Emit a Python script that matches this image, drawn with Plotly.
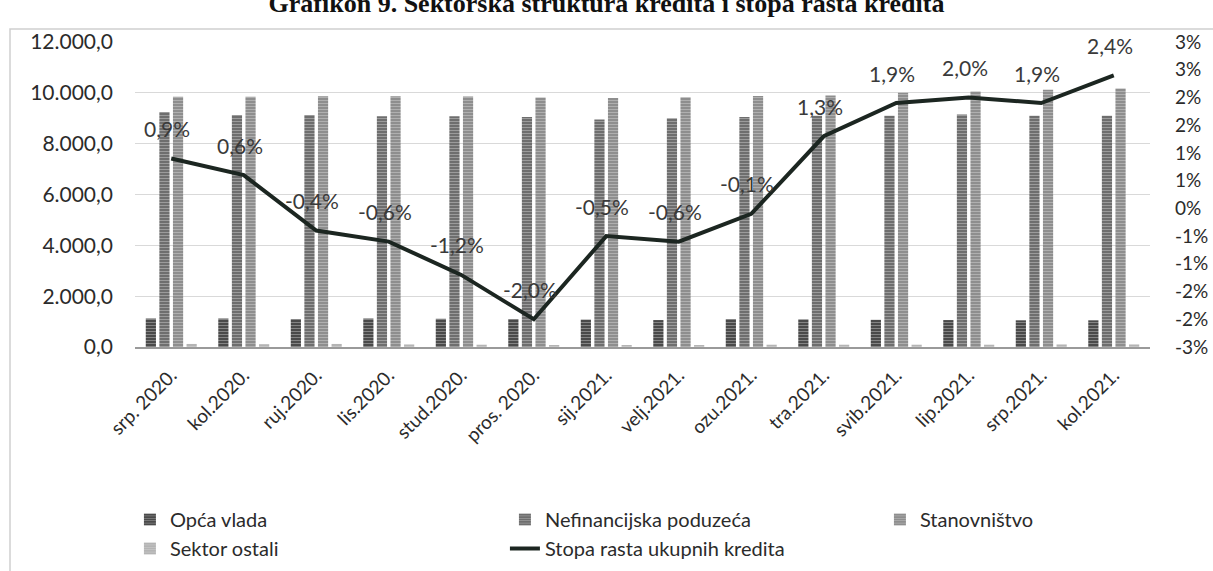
import plotly.graph_objects as go

categories = ["srp. 2020.", "kol.2020.", "ruj.2020.", "lis.2020.", "stud.2020.", "pros. 2020.",
              "sij.2021.", "velj.2021.", "ozu.2021.", "tra.2021.", "svib.2021.", "lip.2021.",
              "srp.2021.", "kol.2021."]
opca_vlada = [1120, 1120, 1100, 1120, 1110, 1100, 1080, 1060, 1100, 1090, 1070, 1060, 1050, 1050]
nefinancijska = [9250, 9130, 9130, 9080, 9080, 9050, 8950, 9000, 9050, 9100, 9100, 9150, 9100, 9100]
stanovnistvo = [9850, 9850, 9870, 9870, 9860, 9820, 9800, 9830, 9880, 9900, 10000, 10050, 10120, 10170]
sektor_ostali = [120, 110, 120, 100, 90, 80, 80, 80, 90, 90, 90, 90, 100, 100]
stopa_rasta = [0.9, 0.6, -0.4, -0.6, -1.2, -2.0, -0.5, -0.6, -0.1, 1.3, 1.9, 2.0, 1.9, 2.4]

right_tickvals = [-2.5, -2.0, -1.5, -1.0, -0.5, 0.0, 0.5, 1.0, 1.5, 2.0, 2.5, 3.0]
right_ticktext = ["-3%", "-2%", "-2%", "-1%", "-1%", "0%", "1%", "1%", "2%", "2%", "3%", "3%"]
left_tickvals = [0, 2000, 4000, 6000, 8000, 10000, 12000]

FONT = "Lato"
TXT = "#2b2b2b"

W, H = 1213, 571
ML, MR, MT, MB = 135, 63, 42, 224
PW, PH = W - ML - MR, H - MT - MB

bar_series = [
    ("Opća vlada", opca_vlada, "#4a4a4a"),
    ("Nefinancijska poduzeća", nefinancijska, "#6e6e6e"),
    ("Stanovništvo", stanovnistvo, "#8e8e8e"),
    ("Sektor ostali", sektor_ostali, "#b4b4b4"),
]

fig = go.Figure()
for name, vals, col in bar_series:
    fig.add_trace(go.Bar(
        x=categories, y=vals, name=name,
        marker=dict(color=col, line=dict(width=0),
                    pattern=dict(shape="-", fgcolor="#e6e6e6", bgcolor=col, size=3, solidity=0.25)),
        yaxis="y",
    ))

fig.add_trace(go.Scatter(
    x=categories, y=stopa_rasta, name="Stopa rasta ukupnih kredita",
    mode="lines", line=dict(color="#1c2621", width=4),
    yaxis="y2",
))

# data labels for the growth-rate line
annotations = []
for cat, val in zip(categories, stopa_rasta):
    annotations.append(dict(
        x=cat, y=val, xref="x", yref="y2",
        text=f"{val:.1f}%".replace(".", ","),
        showarrow=False, xshift=-4, yshift=30, yanchor="middle",
        font=dict(family=FONT, size=21, color="#3a3a3a"),
    ))

fig.update_layout(
    width=W, height=H,
    separators=",.",
    paper_bgcolor="white", plot_bgcolor="white",
    margin=dict(l=ML, r=MR, t=MT, b=MB, autoexpand=False),
    font=dict(family=FONT, size=20, color=TXT),
    barmode="group", bargap=0.25, bargroupgap=0.25,
    title=dict(text="<b>Grafikon 9. Sektorska struktura kredita i stopa rasta kredita</b>",
               x=0.5, xanchor="center", y=1.0 - 3 / H, yref="container", yanchor="middle",
               font=dict(family="Liberation Serif", size=26, color="#111")),
    xaxis=dict(type="category", range=[-0.5, len(categories) - 0.5], tickangle=-45,
               showgrid=False, showline=True,
               linecolor="#9a9a9a", linewidth=1.5, ticks="", automargin=False,
               ticklabelstandoff=8,
               tickfont=dict(family=FONT, size=19, color=TXT)),
    yaxis=dict(range=[0, 12000], tickvals=left_tickvals, tickformat=",.1f",
               showgrid=True, gridcolor="#d9d9d9", gridwidth=1, zeroline=False,
               showline=False, ticks="", automargin=False, ticklabelstandoff=21,
               tickfont=dict(family=FONT, size=21, color=TXT)),
    yaxis2=dict(range=[-2.5, 3.0], overlaying="y", side="right",
                tickvals=right_tickvals, ticktext=right_ticktext,
                showgrid=False, zeroline=False, showline=False, ticks="",
                automargin=False, ticklabelstandoff=24,
                tickfont=dict(family=FONT, size=19, color=TXT)),
    legend=dict(orientation="h", x=-0.005, xanchor="left",
                yref="paper", y=(MT + PH - 500) / PH, yanchor="top",
                entrywidth=330, entrywidthmode="pixels", traceorder="normal",
                font=dict(family=FONT, size=20, color=TXT), tracegroupgap=0,
                itemwidth=30),
    annotations=annotations,
    shapes=[dict(type="rect", xref="paper", yref="paper",
                 x0=-(ML - 10) / PW, x1=1.2, y0=-1.0, y1=1 + (MT - 29) / PH,
                 line=dict(color="#cfcfcf", width=1.5), fillcolor="rgba(0,0,0,0)", layer="below")],
)

fig.write_html("out.html", config={"displayModeBar": False},
               post_script="document.body.style.margin='0';")
